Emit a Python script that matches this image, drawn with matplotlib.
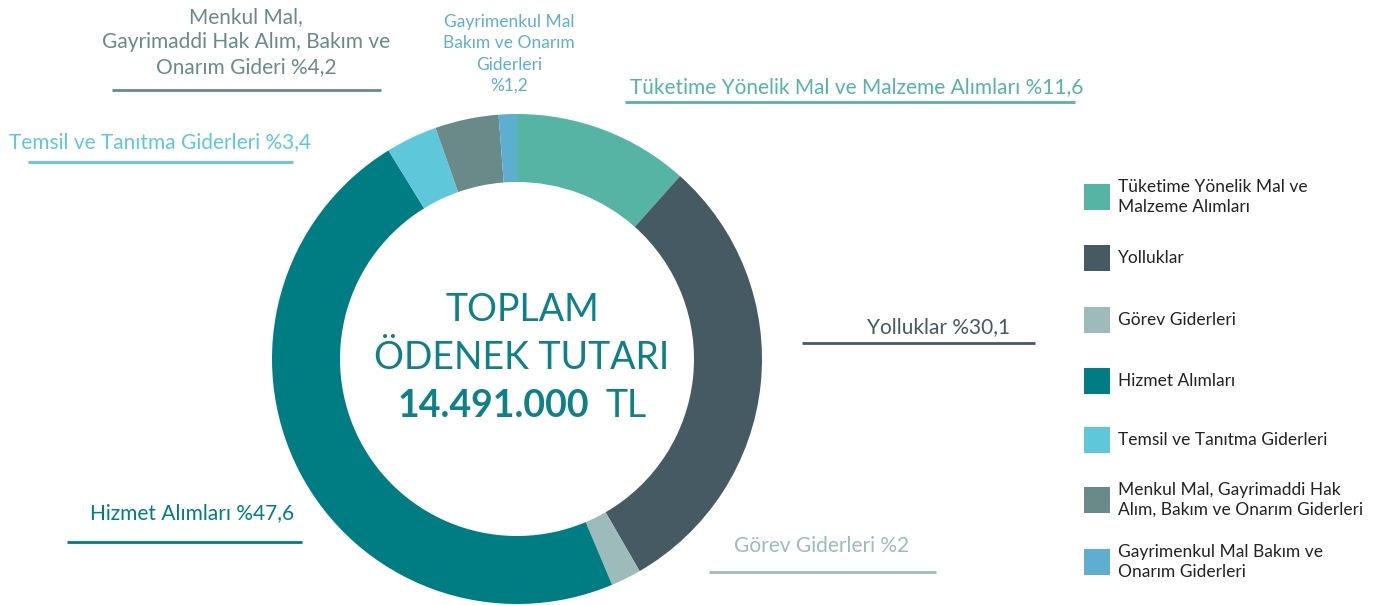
import matplotlib.pyplot as plt

plt.rcParams['font.family'] = ['Lato', 'DejaVu Sans']

# budget shares (%) in drawing order, clockwise from 12 o'clock
categories = [
    "Tüketime Yönelik Mal ve\nMalzeme Alımları",
    "Yolluklar",
    "Görev Giderleri",
    "Hizmet Alımları",
    "Temsil ve Tanıtma Giderleri",
    "Menkul Mal, Gayrimaddi Hak\nAlım, Bakım ve Onarım Giderleri",
    "Gayrimenkul Mal Bakım ve\nOnarım Giderleri",
]
shares = [11.6, 30.1, 2.0, 47.6, 3.4, 4.2, 1.2]
share_labels = ["%11,6", "%30,1", "%2", "%47,6", "%3,4", "%4,2", "%1,2"]
slice_colors = ["#56b4a4", "#465a64", "#9dbbba", "#007d82",
                "#5ec8da", "#6a8a8a", "#5eaed0"]
total_text = "14.491.000"

W, H = 1394, 605
fig = plt.figure(figsize=(W / 100, H / 100), dpi=100)
ax = fig.add_axes([0, 0, 1, 1])


def py(y):
    # pixel row (from top) -> data y
    return H - y


ax.pie(shares, colors=slice_colors, startangle=90, counterclock=False,
       center=(517, py(359)), radius=245,
       wedgeprops=dict(width=68, edgecolor="none"))
ax.set_xlim(0, W)
ax.set_ylim(0, H)
ax.axis("off")

# outer callouts: text, colour index, text anchor, underline span, size, spacing
callouts = [
    ("Menkul Mal,\nGayrimaddi Hak Alım, Bakım ve\nOnarım Gideri " + share_labels[5],
     5, (246, 42), (112, 381, 90), 15, 1.3),
    ("Gayrimenkul Mal\nBakım ve Onarım\nGiderleri\n" + share_labels[6],
     6, (509, 54), None, 12.5, 1.4),
    ("Tüketime Yönelik Mal ve Malzeme Alımları " + share_labels[0],
     0, (857, 87), (625, 1075, 102), 15, 1.2),
    ("Temsil ve Tanıtma Giderleri " + share_labels[4],
     4, (160, 142), (28, 293, 162), 15, 1.2),
    ("Yolluklar " + share_labels[1],
     1, (939, 327), (802, 1035, 343), 15, 1.2),
    ("Hizmet Alımları " + share_labels[3],
     3, (192, 513), (67, 302, 542), 15, 1.2),
    ("Görev Giderleri " + share_labels[2],
     2, (822, 546), (709, 936, 572), 15, 1.2),
]
for text, ci, (tx, ty), line, fs, ls in callouts:
    ax.text(tx, py(ty), text, color=slice_colors[ci], fontsize=fs,
            ha="center", va="center", linespacing=ls)
    if line:
        x0, x1, ly = line
        ax.plot([x0, x1], [py(ly), py(ly)], color=slice_colors[ci],
                lw=2, solid_capstyle="butt")

# centre title
teal = "#0e8088"
ax.text(522, py(310), "TOPLAM", color=teal, fontsize=27,
        ha="center", va="center")
ax.text(522, py(358), "ÖDENEK TUTARI", color=teal, fontsize=27,
        ha="center", va="center")
ax.text(589, py(406), total_text, color=teal, fontsize=27,
        fontweight="bold", ha="right", va="center")
ax.text(605, py(406), "TL", color=teal, fontsize=27,
        ha="left", va="center")

# legend on the right
legend_y = [197, 258, 320, 381, 440, 500, 562]
for name, col, ly in zip(categories, slice_colors, legend_y):
    ax.add_patch(plt.Rectangle((1084, py(ly) - 13), 26, 26,
                               color=col, ec="none"))
    ax.text(1118, py(ly), name, color="#222222", fontsize=12.5,
            ha="left", va="center", linespacing=1.3)

fig.savefig("out.png", dpi=100)
